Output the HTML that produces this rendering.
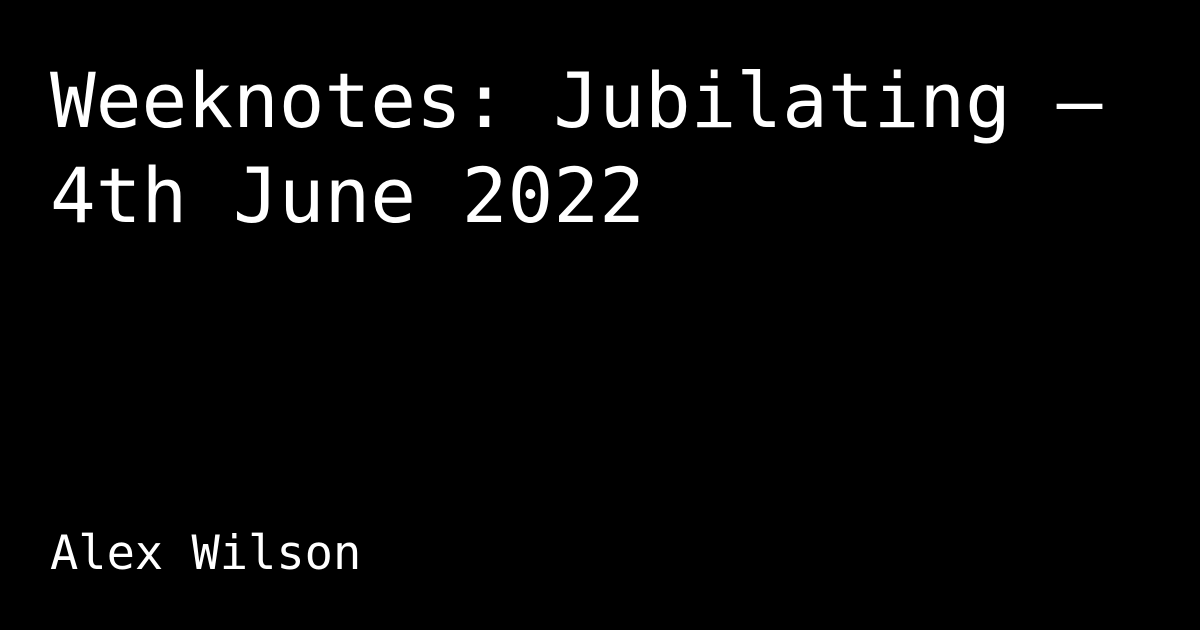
<!DOCTYPE html>
<html><head><meta charset="utf-8"><style>
html,body{margin:0;padding:0;background:#000;width:1200px;height:630px;overflow:hidden}
.t{position:absolute;left:50px;top:53px;font-family:"DejaVu Sans Mono","Liberation Mono",monospace;font-size:76px;line-height:95px;color:#fff;white-space:nowrap}
.a{position:absolute;left:50px;top:529px;font-family:"DejaVu Sans Mono","Liberation Mono",monospace;font-size:47px;line-height:50px;color:#fff;white-space:nowrap}
</style></head><body>
<div class="t">Weeknotes: Jubilating —<br>4th June 2022</div>
<div class="a">Alex Wilson</div>
</body></html>
